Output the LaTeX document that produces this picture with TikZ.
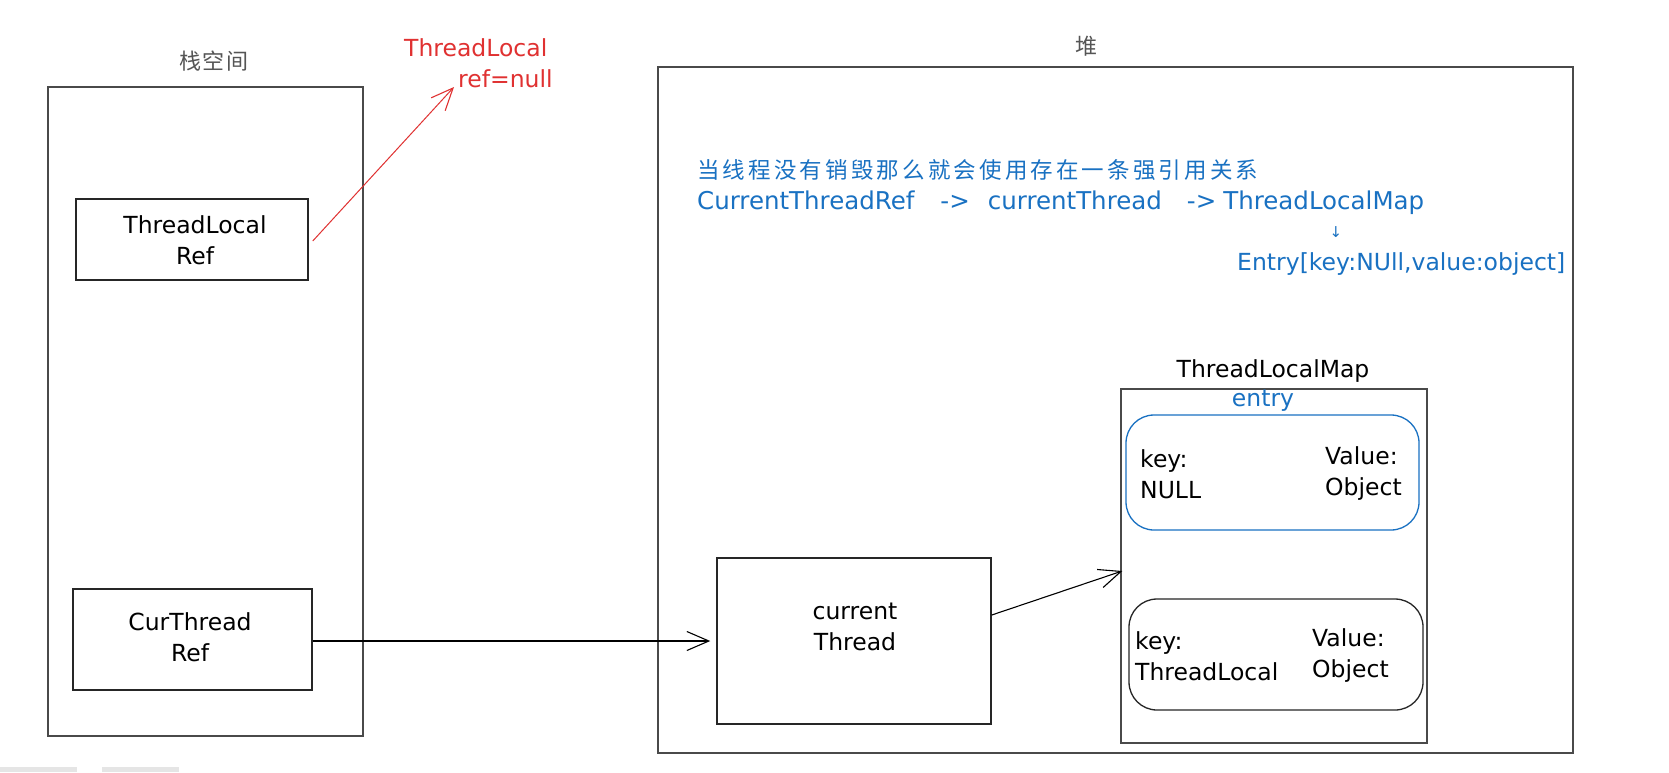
\documentclass[tikz,border=0pt]{standalone}
\usepackage{fontspec}
\setmainfont{DejaVu Sans}
\newfontfamily\cjk{Noto Sans CJK SC}
\newfontfamily\cjkwide{Noto Sans CJK SC}[LetterSpace=14]
\newfontfamily\cjklab{Noto Sans CJK SC}[LetterSpace=8]
\newfontfamily\djv{DejaVu Sans}
\usetikzlibrary{arrows.meta}
\definecolor{exred}{HTML}{E03131}
\definecolor{exblue}{HTML}{1971C2}
\definecolor{boxgray}{HTML}{4A4A4A}
\definecolor{labgray}{HTML}{555555}
\tikzset{
  frame/.style={draw=boxgray, line width=1.5pt, inner sep=0pt},
  txt/.style={font=\fontsize{23.5}{31}\selectfont, inner sep=0pt, align=center},
  ktxt/.style={font=\fontsize{23.5}{31}\selectfont, inner sep=0pt, align=left, anchor=west},
  conn/.style={line width=1.1pt, -{Straight Barb[length=22pt,width=19pt,line width=1.1pt]}},
  entrybox/.style={line width=1.3pt, rounded corners=28pt, inner sep=0pt},
}
\begin{document}
\begin{tikzpicture}[x=1pt,y=-1pt]
\useasboundingbox (0,0) rectangle (1669,772);
\fill[white] (0,0) rectangle (1669,772);

% stack space
\node[frame, minimum width=315pt, minimum height=649pt] (stack) at (205.5,411.5) {};
\node[font=\fontsize{22}{26}\selectfont\cjklab, text=labgray, inner sep=0pt] (stacklab) at (214,61) {栈空间};
\node[frame, draw=black!85, minimum width=232pt, minimum height=81pt] (tlr) at (192,239.5) {};
\node[txt] (tlrlab) at (195,240) {ThreadLocal\\Ref};
\node[frame, draw=black!85, minimum width=239pt, minimum height=101pt] (crr) at (192.5,639.5) {};
\node[txt] (crrlab) at (190,637) {CurThread\\Ref};

% red label
\node[ktxt, text=exred] (redlab) at (404,63.5) {ThreadLocal\\\hspace*{54pt}ref=null};
\coordinate (redend) at (454,87);
\draw[conn, exred, line width=1pt] ([xshift=4pt,yshift=-1.5pt]tlr.east) -- (redend);

% heap
\node[frame, minimum width=915pt, minimum height=686pt] (heap) at (1115.5,410) {};
\node[font=\fontsize{22}{26}\selectfont\cjk, text=labgray, inner sep=0pt] (heaplab) at (1086,46) {堆};

% blue notes
\node[anchor=west, inner sep=0pt, text=exblue, font=\fontsize{22.5}{26}\selectfont\cjkwide] (note1) at (697,170) {当线程没有销毁那么就会使用存在一条强引用关系};
\node[anchor=west, inner sep=0pt, text=exblue, font=\fontsize{24.5}{28}\selectfont] (note2) at (697,203) {CurrentThreadRef\hspace{26pt}->\hspace{18pt}currentThread\hspace{25pt}->\hspace{7pt}ThreadLocalMap};
\node[inner sep=0pt, text=exblue, font=\fontsize{15}{18}\selectfont\djv] (note3) at (1336,232) {↓};
\node[anchor=west, inner sep=0pt, text=exblue, font=\fontsize{23.5}{28}\selectfont] (note4) at (1237,264) {Entry[key:NUll,value:object]};

% current thread
\node[frame, draw=black!85, minimum width=274pt, minimum height=166pt] (ct) at (854,641) {};
\node[txt] (ctlab) at (855,627) {current\\Thread};

% thread local map
\node[frame, minimum width=306pt, minimum height=354pt] (map) at (1274,566) {};
\node[txt] (maplab) at (1273,371) {ThreadLocalMap};
\node[txt, text=exblue] (entrylab) at (1263,401) {entry};
\node[entrybox, draw=exblue, minimum width=293pt, minimum height=115pt] (e1) at (1272.5,472.5) {};
\node[entrybox, draw=black!85, minimum width=294pt, minimum height=111pt] (e2) at (1276,654.5) {};
\node[ktxt] (k1) at (1140,474) {key:\\NULL};
\node[ktxt] (v1) at (1325,474) {Value:\\Object};
\node[ktxt] (k2) at (1135,656) {key:\\ThreadLocal};
\node[ktxt] (v2) at (1312,656) {Value:\\Object};

% connectors
\draw[conn] ([yshift=-1.5pt]crr.east) -- ([xshift=-6pt]ct.west);
\draw[conn] ([yshift=26pt]ct.east) -- ([xshift=2pt,yshift=-5pt]map.west);

% bottom bars
\fill[black!10] (0,767) rectangle (77,772);
\fill[black!10] (102,767) rectangle (179,772);
\end{tikzpicture}
\end{document}
